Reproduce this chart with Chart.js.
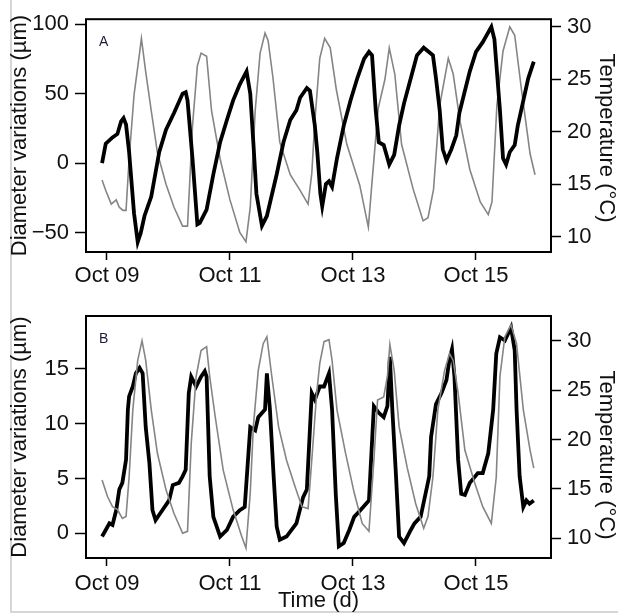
<!DOCTYPE html>
<html>
<head>
<meta charset="utf-8">
<script src="https://cdn.jsdelivr.net/npm/chart.js@4.4.1/dist/chart.umd.min.js"></script>
<style>
  body { margin: 0; background: #fff; }
  #wrap { position: relative; width: 618px; height: 615px; }
  #edge { position: absolute; left: 10px; top: 0; width: 606px; height: 611px;
          border-left: 2px solid #d6d6d6; border-bottom: 2px solid #d6d6d6; }
  canvas { position: absolute; left: 0; }
</style>
</head>
<body>
<div id="wrap">
  <div id="edge"></div>
  <canvas id="chartA" width="618" height="290" style="top:0"></canvas>
  <canvas id="chartB" width="618" height="325" style="top:290px"></canvas>
</div>
<script>
// days counted from Oct 09 00:00
const tickDays = [0, 2, 4, 6];
const tickLabels = ['Oct 09', 'Oct 11', 'Oct 13', 'Oct 15'];

const diamTicksA = [-50, 0, 50, 100];
const diamTicksB = [0, 5, 10, 15];
const tempTicks = [10, 15, 20, 25, 30];

// panel A - stem diameter (µm)
const diamTimeA = [-0.08, -0.02, 0.09, 0.17, 0.23, 0.27, 0.31, 0.36, 0.44, 0.5, 0.55, 0.61, 0.72, 0.85, 0.96, 1.09, 1.23, 1.28, 1.31, 1.39, 1.47,
  1.51, 1.62, 1.73, 1.84, 1.95, 2.05, 2.16, 2.27, 2.33, 2.38, 2.43, 2.52, 2.6, 2.76, 2.87, 2.98, 3.08, 3.14, 3.25, 3.3,
  3.38, 3.42, 3.47, 3.5, 3.56, 3.61, 3.66, 3.74, 3.85, 3.96, 4.07, 4.18, 4.26, 4.31, 4.37, 4.42, 4.5, 4.59, 4.67, 4.75,
  4.83, 4.94, 5.04, 5.15, 5.3, 5.35, 5.41, 5.46, 5.52, 5.6, 5.68, 5.73, 5.82, 5.9, 6.0, 6.11, 6.25, 6.3, 6.39, 6.44,
  6.49, 6.55, 6.63, 6.68, 6.76, 6.85, 6.94];
const diamA = [0, 14, 18.5, 21, 30, 32.4, 27.8, 8, -36, -56.7, -50, -38, -24, 8, 24, 36, 50, 51, 45, 3.5, -44,
  -43, -33.5, -8, 15, 31, 45, 56.7, 66, 50, 15, -22, -45, -38, -8, 15, 31, 38, 47, 54, 52,
  27, 8, -22, -31, -15, -13, -17, 3.5, 27, 45, 61, 75, 80, 77.5, 38, 15, 13, -1, 6, 27,
  43, 61, 77.5, 83, 77.5, 61, 38, 10, 2, 10, 20, 36, 52, 66, 80, 87, 98, 89, 38, 3.5,
  -1, 8, 13, 27, 43, 61, 73];

// panel A - temperature (°C)
const tempTimeA = [-0.08, -0.02, 0.07, 0.15, 0.2, 0.26, 0.31, 0.36, 0.44, 0.53, 0.56, 0.63, 0.72, 0.82, 0.96, 1.09, 1.23, 1.31, 1.39, 1.47,
  1.53, 1.62, 1.7, 1.84, 2.0, 2.16, 2.26, 2.33, 2.41, 2.49, 2.57, 2.62, 2.7, 2.81, 2.98, 3.14, 3.27, 3.33, 3.38, 3.46,
  3.54, 3.63, 3.73, 3.9, 4.11, 4.25, 4.3, 4.41, 4.52, 4.59, 4.68, 4.79, 4.98, 5.14, 5.22, 5.31, 5.41, 5.55, 5.63, 5.74,
  5.9, 6.07, 6.2, 6.26, 6.34, 6.44, 6.55, 6.63, 6.74, 6.88, 6.96];
const tempA = [15.4, 14.4, 13.1, 13.5, 12.8, 12.5, 12.5, 17.4, 23.5, 27.5, 28.9, 25.7, 22, 18, 15, 12.8, 11, 11, 20.5, 26.3,
  27.5, 27.2, 22, 17.4, 13.5, 10.4, 9.5, 12.8, 22, 27.5, 29.4, 28.7, 25.1, 19, 15.9, 14.4, 13.1, 16, 21, 27,
  28.9, 28, 24, 18.8, 14.9, 10.9, 14.5, 22.2, 25, 28, 25.5, 18.8, 14.5, 11.5, 11.8, 14.5, 22.5, 27, 25.5, 21,
  16.4, 13.3, 12.1, 13.3, 22.5, 27.7, 30, 29.2, 24, 17.9, 15.9];

// panel B - stem diameter (µm)
const diamTimeB = [-0.08, -0.02, 0.04, 0.09, 0.15, 0.2, 0.25, 0.31, 0.34, 0.36, 0.42, 0.47, 0.53, 0.58, 0.63, 0.69, 0.74, 0.79, 0.9, 1.01,
  1.07, 1.17, 1.23, 1.28, 1.33, 1.37, 1.45, 1.53, 1.59, 1.62, 1.67, 1.73, 1.84, 1.95, 2.05, 2.16, 2.24, 2.33, 2.41, 2.46,
  2.57, 2.6, 2.65, 2.71, 2.76, 2.81, 2.92, 3.08, 3.19, 3.25, 3.33, 3.38, 3.46, 3.53, 3.61, 3.66, 3.72, 3.77, 3.85, 3.94,
  4.02, 4.12, 4.26, 4.34, 4.42, 4.5, 4.56, 4.6, 4.64, 4.7, 4.75, 4.83, 4.94, 5.0, 5.1, 5.24, 5.27, 5.35, 5.44, 5.52,
  5.57, 5.61, 5.65, 5.71, 5.76, 5.82, 5.9, 6.03, 6.11, 6.2, 6.28, 6.33, 6.39, 6.47, 6.57, 6.63, 6.66, 6.71, 6.77, 6.82,
  6.87, 6.94];
const diamB = [-0.3, 0.3, 0.9, 0.75, 2.1, 4, 4.6, 6.7, 11.3, 12.5, 13.4, 14.6, 15.1, 14.6, 9.7, 6.4, 2.1, 1.2, 2.1, 3,
  4.4, 4.6, 5.2, 5.8, 12.8, 14.3, 13.4, 14.3, 14.8, 14.3, 5.2, 1.5, -0.3, 0.3, 1.5, 2.1, 2.4, 9.7, 9.4, 10.6,
  11.3, 14.6, 11.3, 5.2, 0.6, -0.6, -0.3, 0.9, 3.3, 4, 12.8, 12.2, 13.4, 13.4, 14.6, 11.3, 3.6, -1.2, -0.9, 0.3,
  1.5, 2.1, 3, 11.6, 11, 10.6, 11.6, 16.1, 11.3, 5.2, -0.3, -0.9, 0.3, 0.9, 1.5, 5.2, 8.8, 11.8, 12.8, 14,
  15.9, 16.8, 14.3, 6.7, 3.6, 3.5, 4.6, 5.5, 5.5, 7.3, 11.3, 16.4, 17.9, 17.6, 18.8, 16.7, 11.3, 5.2, 2.4, 3,
  2.7, 3];

// panel B - temperature (°C)
const tempTimeB = [-0.08, 0.01, 0.09, 0.17, 0.25, 0.31, 0.36, 0.42, 0.5, 0.57, 0.63, 0.72, 0.82, 0.96, 1.09, 1.23, 1.31, 1.37, 1.45, 1.53,
  1.62, 1.67, 1.76, 1.89, 2.05, 2.19, 2.26, 2.33, 2.38, 2.46, 2.54, 2.6, 2.68, 2.79, 2.92, 3.06, 3.17, 3.27, 3.33, 3.41,
  3.46, 3.53, 3.61, 3.66, 3.74, 3.88, 4.02, 4.15, 4.26, 4.34, 4.4, 4.5, 4.56, 4.6, 4.67, 4.75, 4.88, 5.02, 5.15, 5.22,
  5.3, 5.38, 5.49, 5.57, 5.63, 5.71, 5.82, 5.98, 6.11, 6.25, 6.33, 6.39, 6.47, 6.57, 6.66, 6.77, 6.88, 6.94];
const tempB = [15.9, 14.2, 13.2, 12.9, 12, 12.2, 16.2, 23, 28, 30, 28, 23, 18.6, 14.9, 12.5, 10.5, 10.7, 19.6, 26.4, 29,
  29.4, 26.4, 22.3, 16.9, 12.9, 10.2, 9, 14.6, 21.3, 27, 29.7, 30.4, 26.4, 21.3, 17.9, 15.2, 13.2, 13, 17.9, 24.7,
  27.7, 29.9, 30.1, 28, 23, 18.6, 14.6, 11.5, 10.7, 17.9, 24, 24.3, 26.4, 29.6, 27, 21.3, 17.2, 13.5, 11, 12.2,
  16.2, 23, 27, 28.7, 28, 24.7, 18.9, 15.6, 13.2, 11.5, 16.2, 26.4, 30.4, 31.6, 29.7, 23, 18.9, 17.1];

const FONT = '"Liberation Sans", Arial, Helvetica, sans-serif';
const INK = '#111';

function pts(xs, ys) {
  return xs.map((x, i) => ({ x: x, y: ys[i] }));
}

// frame, panel letter and right-hand title
const boxPlugin = {
  id: 'box',
  afterDraw(chart, args, opts) {
    const { ctx, chartArea: a } = chart;
    ctx.save();
    ctx.strokeStyle = '#000';
    ctx.lineWidth = 2;
    ctx.strokeRect(a.left, a.top, a.right - a.left, a.bottom - a.top);
    ctx.fillStyle = '#1d1d3a';
    ctx.font = '14px ' + FONT;
    ctx.textBaseline = 'alphabetic';
    ctx.fillText(opts.letter, a.left + 13, a.top + 27);
    ctx.fillStyle = INK;
    ctx.font = '22px ' + FONT;
    ctx.translate(opts.titleX, opts.titleY);
    ctx.rotate(Math.PI / 2);
    ctx.textAlign = 'center';
    ctx.textBaseline = 'middle';
    ctx.fillText('Temperature (°C)', 0, 0);
    ctx.restore();
  }
};

function makeChart(id, o) {
  const tickFont = { family: FONT, size: 22 };
  return new Chart(document.getElementById(id), {
    type: 'line',
    data: {
      datasets: [
        {
          data: pts(o.diamTime, o.diam),
          yAxisID: 'y',
          borderColor: '#000',
          borderWidth: 3.8,
          pointRadius: 0,
          tension: 0,
          order: o.blackOrder
        },
        {
          data: pts(o.tempTime, o.temp),
          yAxisID: 'y2',
          borderColor: '#858585',
          borderWidth: 1.6,
          pointRadius: 0,
          tension: 0,
          order: 1
        }
      ]
    },
    options: {
      responsive: false,
      animation: false,
      layout: { padding: { top: o.padTop, left: 0, right: 0, bottom: 0 } },
      plugins: {
        legend: { display: false },
        tooltip: { enabled: false },
        box: { letter: o.letter, titleX: 606, titleY: o.rightTitleY }
      },
      scales: {
        x: {
          type: 'linear',
          min: -0.341,
          max: 7.22,
          afterBuildTicks: s => { s.ticks = tickDays.map(v => ({ value: v })); },
          afterFit: s => { s.height = o.xHeight; },
          border: { display: false },
          grid: { drawOnChartArea: false, tickLength: 8, tickColor: '#000', tickWidth: 1.5 },
          ticks: {
            font: tickFont, color: INK, padding: o.xPad, maxRotation: 0, autoSkip: false,
            callback: v => tickLabels[tickDays.indexOf(v)]
          },
          title: {
            display: o.xTitle,
            text: 'Time (d)',
            font: { family: FONT, size: 22 },
            color: INK,
            padding: { top: 0, bottom: 1 }
          }
        },
        y: {
          position: 'left',
          min: o.yMin,
          max: o.yMax,
          afterBuildTicks: s => { s.ticks = o.yTicks.map(v => ({ value: v })); },
          afterFit: s => { s.width = 86; },
          border: { display: false },
          grid: { drawOnChartArea: false, tickLength: 11, tickColor: '#000', tickWidth: 1.5 },
          ticks: {
            font: tickFont, color: INK, padding: 6,
            callback: v => String(v).replace('-', '\u2212')
          },
          title: {
            display: true,
            text: 'Diameter variations (µm)',
            font: { family: FONT, size: 22 },
            color: INK,
            padding: { top: 7, bottom: 0 }
          }
        },
        y2: {
          position: 'right',
          min: o.tMin,
          max: o.tMax,
          afterBuildTicks: s => { s.ticks = tempTicks.map(v => ({ value: v })); },
          afterFit: s => { s.width = 67; },
          border: { display: false },
          grid: { drawOnChartArea: false, tickLength: 10, tickColor: '#000', tickWidth: 1.5 },
          ticks: { font: tickFont, color: INK, padding: 6 }
        }
      }
    },
    plugins: [boxPlugin]
  });
}

makeChart('chartA', {
  diamTime: diamTimeA, diam: diamA, tempTime: tempTimeA, temp: tempA,
  yTicks: diamTicksA, yMin: -63.9, yMax: 103.5, tMin: 8.53, tMax: 30.73,
  padTop: 10, xHeight: 38, xPad: 3, xTitle: false, letter: 'A', rightTitleY: 138, blackOrder: 0
});

makeChart('chartB', {
  diamTime: diamTimeB, diam: diamB, tempTime: tempTimeB, temp: tempB,
  yTicks: diamTicksB, yMin: -2.26, yMax: 19.84, tMin: 8.0, tMax: 32.5,
  padTop: 26, xHeight: 57, xPad: 5, xTitle: true, letter: 'B', rightTitleY: 165, blackOrder: 2
});
</script>
</body>
</html>
